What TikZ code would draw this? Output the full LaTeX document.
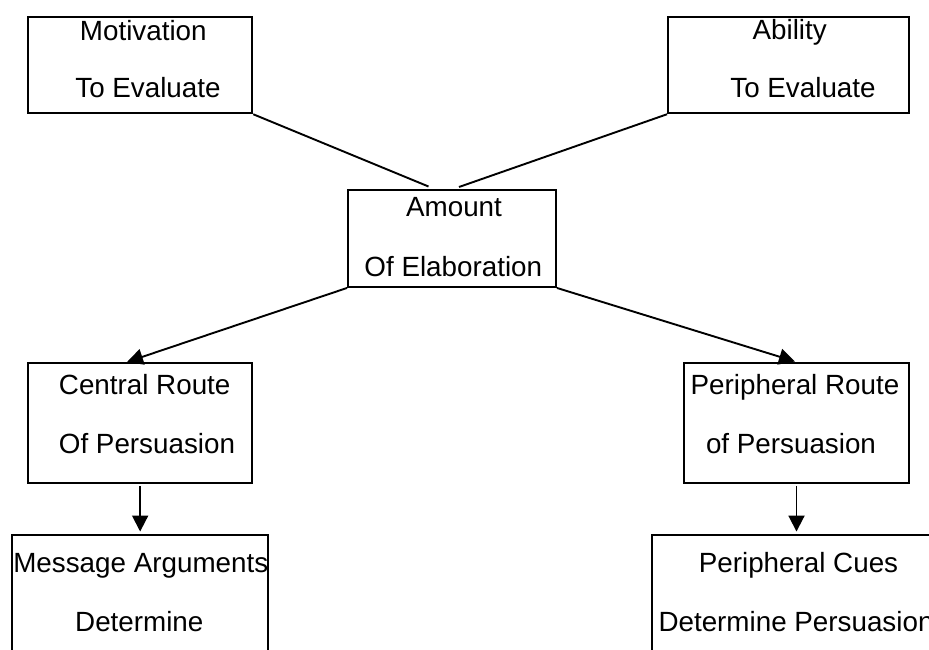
\documentclass[tikz,border=0pt]{standalone}
\usepackage{fontspec}
\setmainfont{Liberation Sans}
\usetikzlibrary{arrows.meta}
\begin{document}
\begin{tikzpicture}[x=1pt,y=-1pt,
  box/.style={draw, line width=1.9pt, inner sep=0pt},
  lbl/.style={inner sep=0pt, anchor=base, font=\fontsize{27.8}{30}\selectfont},
  link/.style={line width=1.9pt},
  arr/.style={line width=1.9pt, -{Triangle[length=16pt,width=16pt]}}]
\useasboundingbox (0,0) rectangle (929,650);
\clip (0,0) rectangle (929,650);

% frames
\node[box, minimum width=224.3pt, minimum height=96.3pt] (mot) at (140.15,65.15) {};
\node[box, minimum width=240.7pt, minimum height=96.3pt] (abl) at (788.35,65.15) {};
\node[box, minimum width=208pt, minimum height=97pt] (amt) at (452,238.5) {};
\node[box, minimum width=224.3pt, minimum height=120pt] (cen) at (140.15,423) {};
\node[box, minimum width=225pt, minimum height=120pt] (per) at (796.5,423) {};
\node[box, minimum width=256.3pt, minimum height=165pt] (msg) at (140.15,617.5) {};
\node[box, minimum width=347.7pt, minimum height=165pt] (cue) at (826.15,617.5) {};

% labels
\node[lbl] (motA) at (143.3,40.5) {Motivation};
\node[lbl] (motB) at (148,98) {To Evaluate};
\node[lbl] (ablA) at (789.7,40) {Ability};
\node[lbl] (ablB) at (803,98) {To Evaluate};
\node[lbl] (amtA) at (454,216.5) {Amount};
\node[lbl] (amtB) at (453.3,276.5) {Of Elaboration};
\node[lbl] (cenA) at (144.7,394) {Central Route};
\node[lbl] (cenB) at (147,453) {Of Persuasion};
\node[lbl] (perA) at (795,394) {Peripheral Route};
\node[lbl] (perB) at (791,453) {of Persuasion};
\node[lbl] (msgA) at (140.8,572) {Message Arguments};
\node[lbl] (msgB) at (139.3,631) {Determine};
\node[lbl] (cueA) at (798.5,572) {Peripheral Cues};
\node[lbl, anchor=base west] (cueB) at (658.3,631) {Determine Persuasion};

% connectors
\coordinate (amtL) at (428.5,186.5);
\coordinate (amtR) at (459,187);
\coordinate (cenIn) at (127,362);
\coordinate (perIn) at (795,361.5);
\draw[link] (mot.south east) -- (amtL);
\draw[link] (abl.south west) -- (amtR);
\draw[arr] (amt.south west) -- (cenIn);
\draw[arr] (amt.south east) -- (perIn);
\draw[arr] ([yshift=-2pt]cen.south) -- ([yshift=2.5pt]msg.north);
\draw[arr] ([yshift=-2pt]per.south) -- ([yshift=2.5pt]per.south |- cue.north);
\end{tikzpicture}
\end{document}
